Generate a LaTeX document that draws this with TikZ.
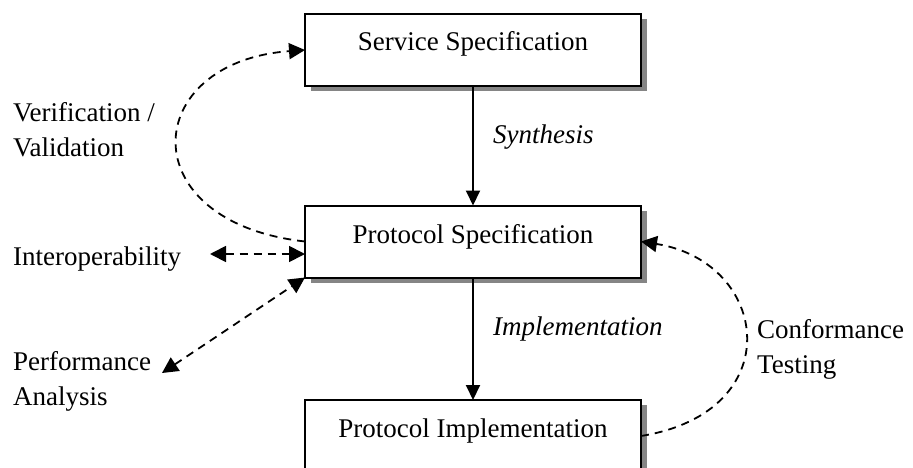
\documentclass[tikz,border=0pt]{standalone}
\usepackage{fontspec}
\setmainfont{Liberation Serif}
\usetikzlibrary{arrows.meta,shadows}
\begin{document}
\begin{tikzpicture}[x=1pt,y=-1pt,
  font=\fontsize{27}{35}\selectfont,
  box/.style={draw, line width=2pt, fill=white, minimum width=336pt, minimum height=72pt,
    inner sep=0pt, outer sep=0pt,
    drop shadow={shadow xshift=6pt, shadow yshift=-5pt, fill=black!48, opacity=1}},
  lbl/.style={inner sep=0pt, anchor=base west, align=left},
  boxtxt/.style={inner sep=0pt, anchor=base},
  solidarrow/.style={line width=2pt, -{Triangle[length=15pt,width=14pt]}},
  dasharrow/.style={line width=1.8pt, dash pattern=on 8pt off 6pt,
    -{Triangle[length=16pt,width=16pt]}},
  dbldasharrow/.style={line width=1.8pt, dash pattern=on 8pt off 6pt,
    {Triangle[length=16pt,width=16pt]}-{Triangle[length=16pt,width=16pt]}}
]
\useasboundingbox (0,0) rectangle (913,468);

\node[box] (ss) at (473,50) {};
\node[box] (ps) at (473,241.5) {};
\node[box] (pi) at (473,436) {};

\node[boxtxt] (sst) at (473,51) {Service Specification};
\node[boxtxt] (pst) at (473,243) {Protocol Specification};
\node[boxtxt] (pit) at (473,437) {Protocol Implementation};

\node[lbl] (syn) at (493,143) {\itshape Synthesis};
\node[lbl] (impl) at (493,335) {\itshape Implementation};

\node[lbl] (vv) at (13,157) {Verification /\\Validation};
\node[lbl] (io) at (13,265) {Interoperability};
\node[lbl] (pa) at (13,405) {Performance\\Analysis};
\node[lbl] (ct) at (757,373) {Conformance\\Testing};

\coordinate (ioend) at (210,254);
\coordinate (paend) at (162,373);

\draw[solidarrow] (ss.south) -- (ps.north);
\draw[solidarrow] (ps.south) -- (pi.north);

\draw[dasharrow] (ps.west) .. controls (130,222) and (140,62) .. (ss.west);
\draw[dasharrow] (pi.east) .. controls (790,412) and (770,262) .. (ps.east);
\draw[dbldasharrow] (ioend) -- (ioend -| ps.west);
\draw[dbldasharrow] (paend) -- (ps.south west);
\end{tikzpicture}
\end{document}
